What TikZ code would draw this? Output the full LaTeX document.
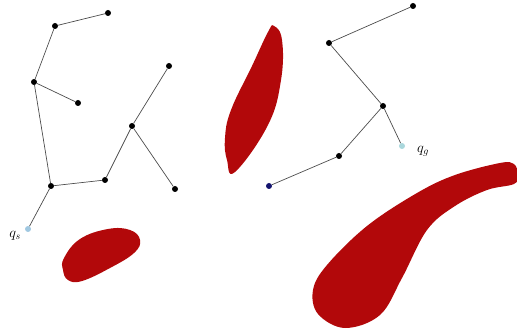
\documentclass[tikz,border=0pt]{standalone}
\begin{document}
\begin{tikzpicture}[x=1pt,y=-1pt]
\definecolor{obst}{RGB}{178,8,10}
\definecolor{startc}{RGB}{160,200,225}
\definecolor{goalc}{RGB}{170,215,220}
\definecolor{rootc}{RGB}{20,20,110}
\tikzset{
  vtx/.style={circle,fill=black,inner sep=0pt,minimum size=6pt},
  edge/.style={draw=black!70,line width=0.7pt},
  lbl/.style={font=\fontsize{14}{14}\selectfont,inner sep=0pt}
}
\useasboundingbox (0,0) rectangle (517,331);
% obstacles
\fill[obst] plot[smooth cycle,tension=0.7] coordinates {(64,258) (80,239) (108,229) (130,230) (140,240) (134,253) (110,268) (82,281) (68,280) (63,270)};
\fill[obst] plot[smooth cycle,tension=0.7] coordinates {(274,26) (282,40) (281,80) (268,125) (235,172) (227,160) (225,138) (231,110) (252,66) (268,32)};
\fill[obst] plot[smooth cycle,tension=0.6] coordinates {(500,163) (514,164) (518,175) (514,184) (487,190) (455,206) (427,230) (402,278) (380,315) (345,328) (318,314) (313,290) (327,265) (367,226) (417,193) (455,175)};
% left tree
\node[vtx] (a) at (108,13) {};
\node[vtx] (b) at (55,26) {};
\node[vtx] (c) at (34,82) {};
\node[vtx] (d) at (78,103) {};
\node[vtx] (e) at (51,186) {};
\node[vtx] (f) at (105,180) {};
\node[vtx] (g) at (132,126) {};
\node[vtx] (h) at (169,66) {};
\node[vtx] (i) at (175,189) {};
\node[vtx,fill=startc] (qs) at (28,229) {};
\node[lbl] (qsl) at (15,236) {$q_s$};
\draw[edge] (a) -- (b) -- (c) -- (d);
\draw[edge] (c) -- (e) -- (f) -- (g) -- (h);
\draw[edge] (g) -- (i);
\draw[edge] (e) -- (qs);
% right tree
\node[vtx] (p) at (413,6) {};
\node[vtx] (q) at (329,43) {};
\node[vtx] (r) at (383,106) {};
\node[vtx,fill=goalc] (qg) at (402,146) {};
\node[vtx] (s) at (339,156) {};
\node[vtx,fill=rootc] (t) at (269,186) {};
\node[lbl] (qgl) at (423,151) {$q_g$};
\draw[edge] (p) -- (q) -- (r) -- (qg);
\draw[edge] (r) -- (s) -- (t);
\end{tikzpicture}
\end{document}
